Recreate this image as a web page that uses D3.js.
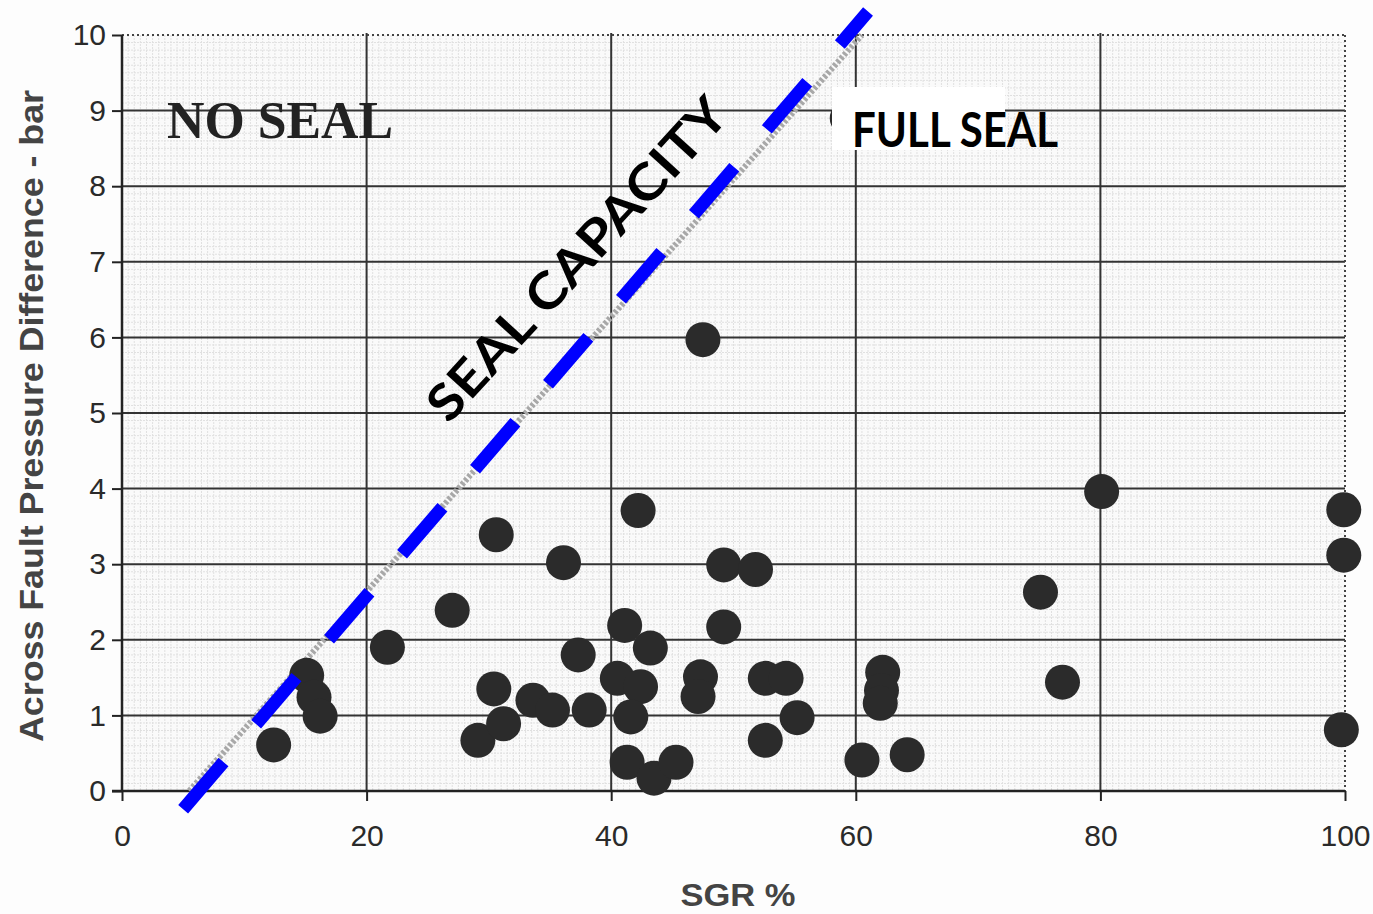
<!DOCTYPE html>
<html><head><meta charset="utf-8">
<script src="https://cdn.jsdelivr.net/npm/d3@7"></script>
<style>body{margin:0;background:#fff;} svg{display:block;}</style>
</head><body>
<svg id="chart" width="1373" height="914"></svg>
<script>
// ---- data ----
const xTicks = [0, 20, 40, 60, 80, 100];
const yTicks = [0, 1, 2, 3, 4, 5, 6, 7, 8, 9, 10];
const sgr = [12.4, 15.1, 15.7, 16.2, 21.7, 27.0, 30.6, 30.4, 29.1, 31.2, 33.6, 35.2, 36.1, 37.3, 38.2,
  40.5, 41.1, 42.4, 41.6, 41.3, 42.2, 43.2, 43.5, 45.3, 47.5, 47.3, 47.1, 49.2, 49.2, 51.8, 52.6, 54.3,
  52.6, 55.2, 60.5, 64.2, 62.2, 62.1, 62.0, 75.1, 76.9, 80.1, 99.9, 99.9, 99.7, 59.3];
const pressure = [0.61, 1.53, 1.24, 0.99, 1.90, 2.39, 3.39, 1.35, 0.67, 0.89, 1.20, 1.07, 3.02, 1.80, 1.07,
  1.49, 2.19, 1.38, 0.98, 0.38, 3.71, 1.89, 0.17, 0.38, 5.97, 1.51, 1.25, 2.99, 2.17, 2.93, 1.49, 1.49,
  0.67, 0.97, 0.41, 0.48, 1.57, 1.33, 1.16, 2.63, 1.44, 3.96, 3.72, 3.12, 0.81, 8.9];
const origLineX = [5.5, 60.5];
const origLineY = [0, 10];
const sealLineX = [5.0, 61.0];
const sealLineY = [-0.24, 10.31];
const xTitle = "SGR %";
const yTitle = "Across Fault Pressure Difference - bar";

// ---- layout ----
const svg = d3.select("#chart");
const L = 122, R = 1345, T = 35, B = 791;
const x = d3.scaleLinear().domain([0, 100]).range([L, R]);
const y = d3.scaleLinear().domain([0, 10]).range([B, T]);
const dark = "#333";

svg.append("rect").attr("width", 1373).attr("height", 914).attr("fill", "#fdfdfd");
svg.append("rect").attr("x", L).attr("y", T).attr("width", R - L).attr("height", B - T).attr("fill", "#fafafa");

// minor grid
const minorX = d3.range(0.5, 100, 0.5);
const minorY = d3.range(0.1, 10, 0.1);
svg.append("g").selectAll("line").data(minorX).join("line")
  .attr("x1", d => x(d)).attr("x2", d => x(d)).attr("y1", T).attr("y2", B)
  .attr("stroke", "#e0e0e0").attr("stroke-width", 1).attr("stroke-dasharray", "2 1");
svg.append("g").selectAll("line").data(minorY).join("line")
  .attr("y1", d => y(d)).attr("y2", d => y(d)).attr("x1", L).attr("x2", R)
  .attr("stroke", "#e0e0e0").attr("stroke-width", 1).attr("stroke-dasharray", "2 1");

// major grid
svg.append("g").selectAll("line").data(yTicks.filter(d => d > 0 && d < 10)).join("line")
  .attr("x1", L).attr("x2", R).attr("y1", d => y(d)).attr("y2", d => y(d))
  .attr("stroke", dark).attr("stroke-width", 2);
svg.append("g").selectAll("line").data(xTicks.filter(d => d > 0 && d < 100)).join("line")
  .attr("x1", d => x(d)).attr("x2", d => x(d)).attr("y1", T - 2).attr("y2", B)
  .attr("stroke", dark).attr("stroke-width", 2);
// top and right dotted borders
svg.append("line").attr("x1", L).attr("x2", R).attr("y1", y(10)).attr("y2", y(10))
  .attr("stroke", "#444").attr("stroke-width", 2).attr("stroke-dasharray", "2 3");
svg.append("line").attr("x1", x(100)).attr("x2", x(100)).attr("y1", T).attr("y2", B)
  .attr("stroke", "#444").attr("stroke-width", 2).attr("stroke-dasharray", "2 3");

// axes
const xAxis = svg.append("g").attr("transform", `translate(0,${B})`)
  .call(d3.axisBottom(x).tickValues(xTicks).tickSize(10).tickPadding(24));
const yAxis = svg.append("g").attr("transform", `translate(${L},0)`)
  .call(d3.axisLeft(y).tickValues(yTicks).tickSize(10).tickPadding(6));
[xAxis, yAxis].forEach(g => {
  g.select(".domain").attr("stroke", "#222").attr("stroke-width", 2.5);
  g.selectAll(".tick line").attr("stroke", "#222").attr("stroke-width", 2);
  g.selectAll(".tick text").attr("fill", "#2a2a2a")
    .style("font-family", "'Liberation Sans', Arial, sans-serif").style("font-size", "30px");
});
xAxis.select(".domain").attr("d", `M${L - 10},0H${R}`);
yAxis.select(".domain").attr("d", `M0,${B}V${T}`);

// original (grey) seal capacity line
svg.append("line")
  .attr("x1", x(origLineX[0])).attr("y1", y(origLineY[0]))
  .attr("x2", x(origLineX[1])).attr("y2", y(origLineY[1]))
  .attr("stroke", "#a8a8a8").attr("stroke-width", 6).attr("stroke-dasharray", "3 2");

// points
svg.append("g").selectAll("circle").data(sgr.map((s, i) => [s, pressure[i]])).join("circle")
  .attr("cx", d => x(d[0])).attr("cy", d => y(d[1])).attr("r", 17.5)
  .attr("fill", "#2b2b2b");

// blue dashed seal line
svg.append("line")
  .attr("x1", x(sealLineX[0])).attr("y1", y(sealLineY[0]))
  .attr("x2", x(sealLineX[1])).attr("y2", y(sealLineY[1]))
  .attr("stroke", "#0000ff").attr("stroke-width", 13).attr("stroke-dasharray", "62 50");

// NO SEAL
svg.append("text").attr("x", 167).attr("y", 138).text("NO SEAL")
  .attr("fill", "#222").style("font-family", "'Liberation Serif', 'Times New Roman', serif")
  .style("font-weight", "bold").style("font-size", "52px")
  .attr("textLength", 226).attr("lengthAdjust", "spacingAndGlyphs");

// FULL SEAL with white box
svg.append("rect").attr("x", 832).attr("y", 87).attr("width", 173).attr("height", 63).attr("fill", "#fff");
svg.append("text").attr("x", 852).attr("y", 147).text("FULL SEAL")
  .attr("fill", "#000").style("font-family", "Lato, 'Open Sans', sans-serif")
  .style("font-weight", "bold").style("font-size", "48px")
  .attr("textLength", 206).attr("lengthAdjust", "spacingAndGlyphs");

// SEAL CAPACITY
svg.append("text").attr("transform", "translate(576,258) rotate(-47.5)")
  .attr("text-anchor", "middle").attr("dominant-baseline", "central").text("SEAL CAPACITY")
  .attr("fill", "#000").style("font-family", "Lato, 'Open Sans', sans-serif")
  .style("font-weight", "bold").style("font-size", "50px")
  .attr("textLength", 418).attr("lengthAdjust", "spacingAndGlyphs");

// axis titles
svg.append("text").attr("transform", "translate(43,416) rotate(-90)")
  .attr("text-anchor", "middle").text(yTitle)
  .attr("fill", "#444").style("font-family", "'Liberation Sans', Arial, sans-serif")
  .style("font-weight", "bold").style("font-size", "34px")
  .attr("textLength", 652).attr("lengthAdjust", "spacingAndGlyphs");
svg.append("text").attr("x", 738).attr("y", 906).attr("text-anchor", "middle").text(xTitle)
  .attr("fill", "#444").style("font-family", "'Liberation Sans', Arial, sans-serif")
  .style("font-weight", "bold").style("font-size", "32px")
  .attr("textLength", 115).attr("lengthAdjust", "spacingAndGlyphs");
</script>
</body></html>
